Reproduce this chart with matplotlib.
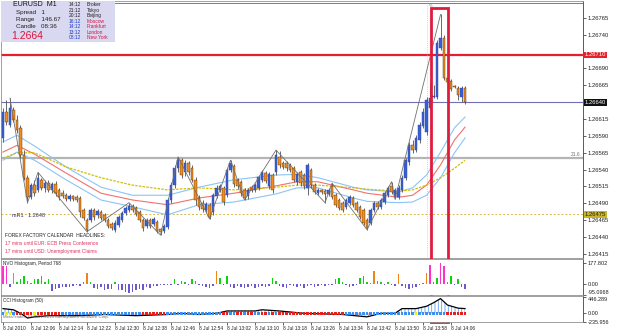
import numpy as np
import matplotlib
matplotlib.use('Agg')
import matplotlib.pyplot as plt
import matplotlib.transforms as mtransforms
from matplotlib.patches import Rectangle

plt.rcParams['font.family'] = ['Liberation Sans', 'DejaVu Sans']
plt.rcParams['hatch.linewidth'] = 0.6

# EURUSD M1, 8 Jul 2010 from 11:58, one value per bar
opens = [1.26587, 1.26625, 1.26606, 1.26628, 1.26613, 1.26602, 1.26562, 1.26528, 1.26499, 1.26517,
         1.26510, 1.26525, 1.26513, 1.26520, 1.26510, 1.26519, 1.26510, 1.26505, 1.26502, 1.26496,
         1.26501, 1.26499, 1.26498, 1.26480, 1.26465, 1.26465, 1.26480, 1.26473, 1.26477, 1.26473,
         1.26465, 1.26459, 1.26451, 1.26458, 1.26465, 1.26476, 1.26480, 1.26486, 1.26483, 1.26477,
         1.26465, 1.26456, 1.26465, 1.26459, 1.26462, 1.26452, 1.26449, 1.26455, 1.26495, 1.26517,
         1.26542, 1.26554, 1.26536, 1.26550, 1.26542, 1.26525, 1.26498, 1.26491, 1.26480, 1.26488,
         1.26477, 1.26501, 1.26510, 1.26513, 1.26502, 1.26539, 1.26545, 1.26525, 1.26522, 1.26510,
         1.26501, 1.26514, 1.26510, 1.26513, 1.26525, 1.26535, 1.26516, 1.26532, 1.26536, 1.26559,
         1.26550, 1.26550, 1.26547, 1.26542, 1.26522, 1.26536, 1.26532, 1.26513, 1.26539, 1.26517,
         1.26505, 1.26510, 1.26508, 1.26504, 1.26516, 1.26502, 1.26495, 1.26491, 1.26485, 1.26491,
         1.26498, 1.26491, 1.26485, 1.26480, 1.26465, 1.26461, 1.26480, 1.26491, 1.26485, 1.26492,
         1.26502, 1.26516, 1.26499, 1.26499, 1.26510, 1.26528, 1.26551, 1.26576, 1.26569, 1.26584,
         1.26605, 1.26596, 1.26631, 1.26647, 1.26647, 1.26720, 1.26735, 1.26676, 1.26671, 1.26664,
         1.26661, 1.26647, 1.26661]
closes = [1.26625, 1.26610, 1.26631, 1.26613, 1.26599, 1.26562, 1.26528, 1.26499, 1.26517, 1.26505,
          1.26528, 1.26513, 1.26520, 1.26510, 1.26519, 1.26505, 1.26499, 1.26501, 1.26496, 1.26501,
          1.26496, 1.26495, 1.26477, 1.26468, 1.26451, 1.26480, 1.26470, 1.26479, 1.26468, 1.26465,
          1.26456, 1.26454, 1.26461, 1.26470, 1.26476, 1.26483, 1.26486, 1.26480, 1.26474, 1.26465,
          1.26454, 1.26465, 1.26456, 1.26467, 1.26449, 1.26448, 1.26456, 1.26495, 1.26517, 1.26542,
          1.26554, 1.26532, 1.26550, 1.26536, 1.26525, 1.26495, 1.26485, 1.26482, 1.26489, 1.26470,
          1.26502, 1.26513, 1.26516, 1.26492, 1.26539, 1.26550, 1.26519, 1.26516, 1.26505, 1.26498,
          1.26510, 1.26510, 1.26517, 1.26529, 1.26536, 1.26523, 1.26533, 1.26510, 1.26562, 1.26547,
          1.26544, 1.26542, 1.26539, 1.26525, 1.26533, 1.26520, 1.26516, 1.26547, 1.26517, 1.26507,
          1.26510, 1.26507, 1.26504, 1.26510, 1.26499, 1.26488, 1.26483, 1.26480, 1.26495, 1.26499,
          1.26488, 1.26480, 1.26470, 1.26461, 1.26454, 1.26480, 1.26491, 1.26485, 1.26495, 1.26505,
          1.26513, 1.26507, 1.26510, 1.26513, 1.26528, 1.26554, 1.26576, 1.26569, 1.26587, 1.26606,
          1.26625, 1.26643, 1.26646, 1.26649, 1.26727, 1.26735, 1.26676, 1.26670, 1.26659, 1.26662,
          1.26650, 1.26661, 1.26640]
highs = [1.26631, 1.26643, 1.26646, 1.26633, 1.26621, 1.26606, 1.26569, 1.26532, 1.26520, 1.26525,
         1.26536, 1.26528, 1.26525, 1.26525, 1.26522, 1.26523, 1.26513, 1.26510, 1.26505, 1.26504,
         1.26502, 1.26502, 1.26501, 1.26483, 1.26468, 1.26483, 1.26483, 1.26482, 1.26480, 1.26476,
         1.26468, 1.26462, 1.26465, 1.26473, 1.26479, 1.26486, 1.26491, 1.26489, 1.26486, 1.26480,
         1.26468, 1.26468, 1.26468, 1.26470, 1.26465, 1.26454, 1.26459, 1.26498, 1.26522, 1.26547,
         1.26559, 1.26557, 1.26554, 1.26553, 1.26547, 1.26529, 1.26502, 1.26495, 1.26492, 1.26491,
         1.26505, 1.26517, 1.26519, 1.26516, 1.26542, 1.26554, 1.26548, 1.26528, 1.26525, 1.26513,
         1.26513, 1.26517, 1.26520, 1.26532, 1.26539, 1.26538, 1.26536, 1.26535, 1.26569, 1.26567,
         1.26553, 1.26553, 1.26550, 1.26545, 1.26536, 1.26539, 1.26535, 1.26550, 1.26542, 1.26520,
         1.26513, 1.26511, 1.26511, 1.26513, 1.26520, 1.26505, 1.26498, 1.26493, 1.26498, 1.26502,
         1.26501, 1.26493, 1.26488, 1.26483, 1.26468, 1.26483, 1.26493, 1.26493, 1.26498, 1.26508,
         1.26516, 1.26522, 1.26513, 1.26517, 1.26532, 1.26557, 1.26581, 1.26584, 1.26591, 1.26610,
         1.26631, 1.26647, 1.26668, 1.26665, 1.26732, 1.26770, 1.26739, 1.26677, 1.26674, 1.26665,
         1.26664, 1.26664, 1.26664]
lows = [1.26581, 1.26606, 1.26603, 1.26610, 1.26594, 1.26557, 1.26525, 1.26491, 1.26496, 1.26501,
        1.26507, 1.26510, 1.26507, 1.26507, 1.26505, 1.26501, 1.26495, 1.26498, 1.26493, 1.26493,
        1.26493, 1.26492, 1.26470, 1.26465, 1.26448, 1.26462, 1.26465, 1.26468, 1.26465, 1.26462,
        1.26454, 1.26451, 1.26448, 1.26455, 1.26462, 1.26473, 1.26477, 1.26477, 1.26471, 1.26462,
        1.26449, 1.26454, 1.26454, 1.26456, 1.26446, 1.26443, 1.26446, 1.26452, 1.26491, 1.26513,
        1.26536, 1.26528, 1.26530, 1.26532, 1.26522, 1.26488, 1.26480, 1.26477, 1.26477, 1.26467,
        1.26473, 1.26498, 1.26507, 1.26488, 1.26499, 1.26536, 1.26514, 1.26511, 1.26501, 1.26495,
        1.26496, 1.26507, 1.26507, 1.26510, 1.26522, 1.26520, 1.26511, 1.26505, 1.26532, 1.26542,
        1.26541, 1.26538, 1.26536, 1.26522, 1.26517, 1.26516, 1.26511, 1.26502, 1.26513, 1.26504,
        1.26502, 1.26504, 1.26491, 1.26501, 1.26496, 1.26485, 1.26480, 1.26477, 1.26482, 1.26488,
        1.26485, 1.26477, 1.26467, 1.26458, 1.26451, 1.26458, 1.26477, 1.26482, 1.26482, 1.26489,
        1.26499, 1.26504, 1.26496, 1.26496, 1.26507, 1.26525, 1.26547, 1.26565, 1.26566, 1.26579,
        1.26602, 1.26591, 1.26628, 1.26646, 1.26644, 1.26717, 1.26673, 1.26667, 1.26656, 1.26661,
        1.26643, 1.26640, 1.26637]

# zigzag swing points (bar, price)
zz_bar = [2, 7, 10, 24, 36, 45, 50, 59, 65, 69, 78, 92, 94, 104, 111, 112, 125]
zz_price = [1.26646, 1.26491, 1.26536, 1.26448, 1.26491, 1.26443, 1.26559, 1.26467, 1.26554,
            1.26495, 1.26569, 1.26491, 1.26520, 1.26451, 1.26522, 1.26496, 1.26770]

# moving average envelope read at a few bars
ma_bar = [0, 4, 9, 18, 28, 37, 47, 56, 66, 78, 84, 90, 100, 104, 113, 117, 121, 125, 129, 132]
ma_upper = [1.26581, 1.26591, 1.26575, 1.26544, 1.26514, 1.26502, 1.26502, 1.26514, 1.26525, 1.26532,
            1.26533, 1.26528, 1.26514, 1.26510, 1.26507, 1.26513, 1.26532, 1.26566, 1.26602, 1.26618]
ma_mid = [1.26566, 1.26576, 1.26563, 1.26535, 1.26505, 1.26495, 1.26488, 1.26498, 1.26505, 1.26516,
          1.26522, 1.26522, 1.26510, 1.26505, 1.26499, 1.26502, 1.26517, 1.26547, 1.26584, 1.26603]
ma_lower = [1.26554, 1.26566, 1.26554, 1.26525, 1.26495, 1.26485, 1.26473, 1.26488, 1.26492, 1.26504,
            1.26513, 1.26513, 1.26498, 1.26493, 1.26491, 1.26492, 1.26502, 1.26528, 1.26565, 1.26587]
ma_slow = [1.26557, 1.26565, 1.26565, 1.26544, 1.26528, 1.26517, 1.26510, 1.26513, 1.26510, 1.26514,
           1.26517, 1.26517, 1.26513, 1.26511, 1.26508, 1.26510, 1.26517, 1.26528, 1.26542, 1.26554]

level_red = 1.26710
level_bid = 1.26640
level_fib = 1.26557
level_mr1 = 1.26474
level_top = 1.26787

# NVO histogram, one value per bar
nvo = [152, 152, -28, 97, 20, 41, 69, 27, 10, 41,
       41, 69, 20, 41, -60, -42, -35, -28, -22, -28,
       -15, -10, -20, 14, 97, 20, -35, -42, -28, -50,
       -42, -42, 14, -56, -50, -69, -78, -69, -56, -42,
       -50, -28, -35, -20, -15, -10, -8, -10, -5, 41,
       -5, 27, 20, -5, 41, 27, -8, -15, -30, -35,
       -20, 110, 55, -10, 69, -28, -35, -20, -28, -35,
       -28, -20, -35, -28, -20, -28, -15, 55, 27, -20,
       -28, -35, -10, -20, -28, -15, -35, -20, -10, -28,
       -15, -8, -20, -10, -5, 41, 55, 20, -10, -28,
       -20, -5, 55, 69, 20, 10, 115, 27, 20, -5,
       14, -10, -15, 90, -20, -35, -42, -35, -28, -10,
       5, 97, 166, 20, 55, 178, 152, 20, 69, -10,
       41, -28, -42]

# CCI line read at a few bars, and the signal dots under it
cci_bar = [0, 3, 5, 7, 9, 13, 22, 29, 38, 47, 51, 56, 61, 64, 72, 74, 79, 86, 97, 104,
           108, 112, 114, 118, 121, 123, 125, 127, 130, 132]
cci_val = [128, 96, 0, -128, -96, -64, -64, -32, -64, -32, 0, -32, 0, 64, 64, 96, 64, 0, -32, -96,
           0, 0, 128, 128, 192, 288, 400, 224, 141, 128]
cci_dots = ('byyb' + 'rrrrryrrrrrrr' + 'b' * 23 + 'r' * 7 + 'b' * 16 + 'rrbbrrbrrbbrrbrb'
            + 'r' * 19 + 'b' * 20 + 'y' + 'b' * 8 + 'r' * 6)

time_labels = ['8 Jul 2010', '8 Jul 12:06', '8 Jul 12:14', '8 Jul 12:22', '8 Jul 12:30', '8 Jul 12:38',
               '8 Jul 12:46', '8 Jul 12:54', '8 Jul 13:02', '8 Jul 13:10', '8 Jul 13:18', '8 Jul 13:26',
               '8 Jul 13:34', '8 Jul 13:42', '8 Jul 13:50', '8 Jul 13:58', '8 Jul 14:06']
time_bars = list(range(0, 8 * len(time_labels), 8))

price_ticks = [1.26415, 1.26440, 1.26465, 1.26490, 1.26515, 1.26540, 1.26565, 1.26590, 1.26615,
               1.26665, 1.26690, 1.26740, 1.26765]

world_times = ['14:12', '21:12', '20:12', '16:12', '14:12', '13:12', '08:12']
world_cities = ['Broker', 'Tokyo', 'Beijing', 'Moscow', 'Frankfurt', 'London', 'New York']
news = ['17 mins until EUR: ECB Press Conference', '17 mins until USD: Unemployment Claims']

fig = plt.figure(figsize=(6.25, 3.32), dpi=100)
ax = fig.add_axes([0.0016, 0.2229, 0.9312, 0.7741])
ax2 = fig.add_axes([0.0016, 0.1114, 0.9312, 0.1084], sharex=ax)
ax3 = fig.add_axes([0.0016, 0.0301, 0.9312, 0.0783], sharex=ax)

x = np.arange(len(closes))
o = np.array(opens)
c = np.array(closes)
up = c >= o

# candles
ax.vlines(x, lows, highs, color='#505050', lw=0.6, zorder=3)
ax.bar(x[up], (c - o)[up], bottom=o[up], width=0.7, color='#3a5fd0', edgecolor='#2a45a8', lw=0.3, zorder=4)
ax.bar(x[~up], (o - c)[~up], bottom=c[~up], width=0.7, color='#f28c20', edgecolor='#4a3010', lw=0.3, zorder=4)

# envelope + slow ma
ax.plot(ma_bar, ma_upper, color='#8cc4f8', lw=0.8, zorder=2)
ax.plot(ma_bar, ma_mid, color='#f27070', lw=0.8, zorder=2)
ax.plot(ma_bar, ma_lower, color='#8cc4f8', lw=0.8, zorder=2)
ax.plot(ma_bar, ma_slow, color='#d2c000', lw=0.9, ls=(0, (2, 1)), zorder=2)

ax.plot(zz_bar, zz_price, color='#707070', lw=0.6, zorder=5)

ax.axhline(level_red, color='#e4202c', lw=1.6, zorder=1)
ax.axhline(level_bid, color='#7070b8', lw=0.8, zorder=1)
ax.axhline(level_fib, color='#b4b4b4', lw=1.6, zorder=1)
ax.axhline(level_mr1, color='#d8b848', lw=0.7, ls=(0, (2, 2)), zorder=1)
ax.axhline(level_top, color='#b04848', lw=0.6, zorder=1)
ax.axvline(121.2, color='#c8c8a0', lw=0.6, ls=(0, (1, 1.5)), zorder=1)
ax.text(121.6, 1.26782, '%', fontsize=3, color='#666666', va='center')

ax.set_xlim(-0.57, 165.7)
ax.set_ylim(1.26409, 1.26790)
ax.yaxis.tick_right()
ax.set_yticks(price_ticks)
ax.set_yticklabels(['%.5f' % p for p in price_ticks], fontsize=4.2)
ax.tick_params(axis='y', length=2, width=0.5, pad=1.5, colors='#222222')
ax.tick_params(axis='x', bottom=False, labelbottom=False)

trans = mtransforms.blended_transform_factory(ax.transAxes, ax.transData)
ax.text(1.003, level_red, '%.5f' % level_red, transform=trans, fontsize=4.2, color='white', va='center',
        bbox=dict(boxstyle='square,pad=0.15', fc='#e4202c', ec='none'))
ax.text(1.003, level_bid, '%.5f' % level_bid, transform=trans, fontsize=4.2, color='white', va='center',
        bbox=dict(boxstyle='square,pad=0.15', fc='#101010', ec='none'))
ax.text(1.003, level_mr1, '%.5f' % (level_mr1 + 0.00001), transform=trans, fontsize=4.2, color='#202020',
        va='center', bbox=dict(boxstyle='square,pad=0.15', fc='#c8b428', ec='none'))
ax.text(0.995, level_fib + 0.00002, '21.6', transform=trans, fontsize=3.5, color='#707070', ha='right', va='bottom')

# highlight box over the spike
ax.add_patch(Rectangle((122.2, 1.26314), 4.8, 1.26779 - 1.26314, fill=False, ec='#e01c3c', lw=2,
                       clip_on=False, zorder=10))


def px(xp, yp):
    return ((xp - 1) / 582, 1 - (yp - 1) / 257)


# info panel
ax.add_patch(Rectangle(px(0, 42), 115 / 582, 42 / 257, transform=ax.transAxes, fc='#d8d8f0', ec='none', zorder=6))
ax.text(*px(13, 5), 'EURUSD  M1', transform=ax.transAxes, fontsize=5, color='#101010', va='center', zorder=7)
ax.text(*px(16, 13), 'Spread   1', transform=ax.transAxes, fontsize=4.5, color='#202020', va='center', zorder=7)
ax.text(*px(16, 20), 'Range    146.67', transform=ax.transAxes, fontsize=4.5, color='#202020', va='center', zorder=7)
ax.text(*px(16, 27), 'Candle   08:36', transform=ax.transAxes, fontsize=4.5, color='#202020', va='center', zorder=7)
ax.text(*px(11, 36), '1.2664', transform=ax.transAxes, fontsize=7.5, color='#e0143c', va='center', zorder=7)
for k in range(len(world_times)):
    yy = 5 + 5.5 * k
    tcol = '#202020' if k < 3 else '#1a3cc8'
    ccol = '#202020' if k < 3 else '#e0143c'
    ax.text(*px(69, yy), world_times[k], transform=ax.transAxes, fontsize=3.5, color=tcol, va='center', zorder=7)
    ax.text(*px(87, yy), world_cities[k], transform=ax.transAxes, fontsize=3.5, color=ccol, va='center', zorder=7)

ax.text(*px(12, 216), 'mR1   1.2648', transform=ax.transAxes, fontsize=4, color='#303080', va='center', zorder=7)
ax.text(*px(5, 236), 'FOREX FACTORY CALENDAR  HEADLINES:', transform=ax.transAxes, fontsize=3.5,
        color='#202020', va='center', zorder=7)
for k in range(len(news)):
    ax.text(*px(5, 244 + 7.5 * k), news[k], transform=ax.transAxes, fontsize=3.5, color='#e0305a',
            va='center', zorder=7)

# NVO histogram
nv = np.array(nvo)
nvo_cols = ['#ff30d0' if v >= 140 else '#f08418' if v >= 85 else '#10d010' if v > 0 else '#6a5acd' for v in nv]
ax2.bar(x, nv, width=0.45, color=nvo_cols)
ax2.set_ylim(-95, 215)
ax2.yaxis.tick_right()
ax2.set_yticks([177.802, 0, -95.0968])
ax2.set_yticklabels(['177.802', '0.00', '-95.0968'], fontsize=4)
ax2.get_yticklabels()[2].set_va('bottom')
ax2.tick_params(axis='y', length=2, width=0.5, pad=1.5, colors='#222222')
ax2.tick_params(axis='x', bottom=False, labelbottom=False)
ax2.text(0.004, 0.88, 'NVO Histogram, Period 768', transform=ax2.transAxes, fontsize=3.3, color='#202020', va='center')

# CCI histogram
cb = np.array(cci_bar)
cv = np.array(cci_val)
ax3.fill_between(cb, 0, cv, where=cv >= 0, interpolate=True, facecolor='none', edgecolor='#5f9ef0',
                 hatch='|||||', lw=0)
ax3.fill_between(cb, 0, cv, where=cv <= 0, interpolate=True, facecolor='none', edgecolor='#f49090',
                 hatch='|||||', lw=0)
ax3.plot(cb, cv, color='black', lw=0.9, zorder=3)
dot_map = {'b': '#3a8ff0', 'r': '#e8201c', 'y': '#f0f000'}
ax3.scatter(x, np.zeros(len(x)), marker='s', s=3.2, c=[dot_map[d] for d in cci_dots], linewidths=0, zorder=4)
ax3.set_ylim(-236, 470)
ax3.yaxis.tick_right()
ax3.set_yticks([446.289, 0, -235.956])
ax3.set_yticklabels(['446.289', '0.00', '-235.956'], fontsize=4)
ax3.get_yticklabels()[0].set_va('top')
ax3.tick_params(axis='y', length=2, width=0.5, pad=1.5, colors='#222222')
ax3.text(0.004, 0.82, 'CCI Histogram (50)', transform=ax3.transAxes, fontsize=3.3, color='#202020', va='center')
ax3.text(0.004, 0.2, 'MetaTrader   \u00a9 2001-2010 MetaQuotes Software Corp.', transform=ax3.transAxes,
         fontsize=3.2, color='#707070', va='center')
ax3.set_xticks(time_bars)
ax3.set_xticklabels(time_labels, fontsize=3.5, ha='left')
ax3.tick_params(axis='x', length=2, width=0.5, pad=1, colors='#222222')

for a in (ax, ax2, ax3):
    for s in a.spines.values():
        s.set_color('#909090')
        s.set_linewidth(0.6)
    a.spines['right'].set_color('#404040')

fig.savefig('out.png', dpi=100)
